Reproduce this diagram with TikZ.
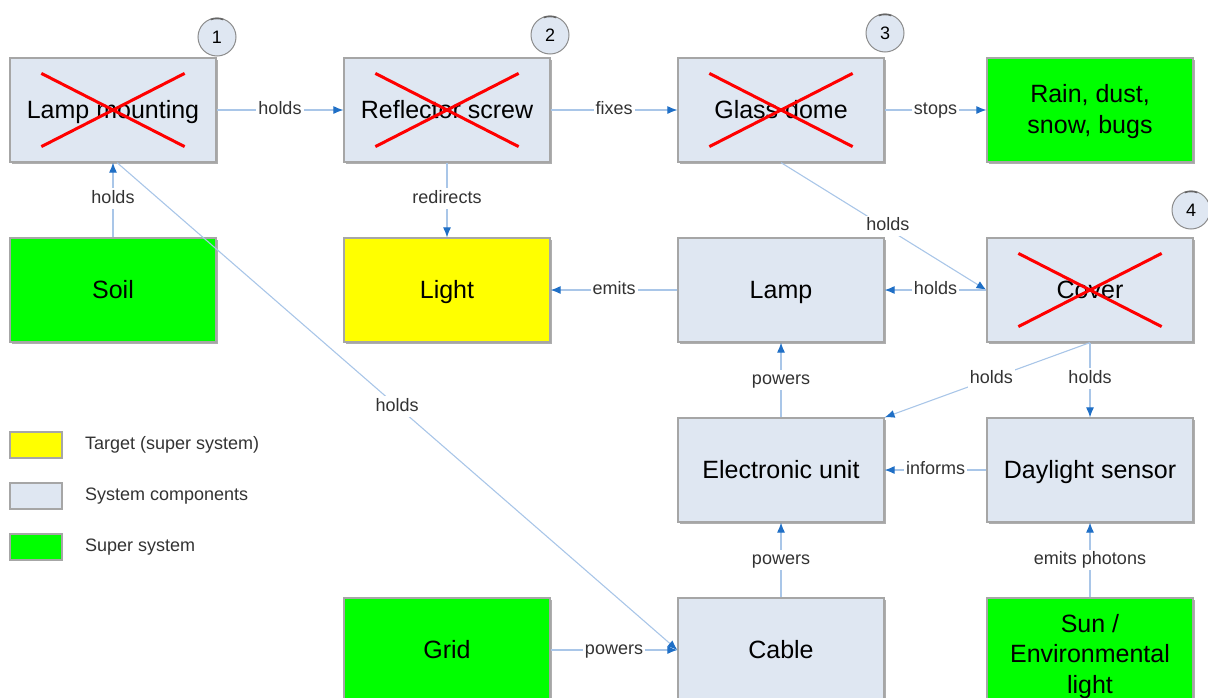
\documentclass[tikz,border=0pt]{standalone}
\usepackage{fontspec}
\setmainfont{Liberation Sans}
\usetikzlibrary{arrows.meta,shadows}
\definecolor{boxfill}{HTML}{DFE7F2}
\definecolor{boxline}{HTML}{A6A6A6}
\definecolor{supergreen}{HTML}{00FF00}
\definecolor{targetyellow}{HTML}{FFFF00}
\definecolor{linkblue}{HTML}{A9C6E8}
\definecolor{tipblue}{HTML}{1F6FC6}
\definecolor{labelgray}{HTML}{333333}
\definecolor{circline}{HTML}{8C8C8C}
\tikzset{
  base/.style={rectangle, minimum width=206pt, minimum height=104pt, inner sep=0pt,
    align=center, font=\fontsize{25}{31}\selectfont, draw=boxline, line width=1.2pt,
    text height=22.6pt, text depth=5.3pt,
    drop shadow={shadow xshift=1.5pt, shadow yshift=-1.5pt, fill=black!45, opacity=0.7}},
  comp/.style={base, fill=boxfill},
  supersys/.style={base, fill=supergreen},
  target/.style={base, fill=targetyellow},
  boxline/.style={anchor=base, inner sep=0pt, font=\fontsize{25}{31}\selectfont},
  link/.style={draw=linkblue, line width=1.1pt, -{Latex[length=10pt,width=8pt,color=tipblue]}},
  lbl/.style={fill=white, inner sep=2pt, text=labelgray, font=\fontsize{18}{20}\selectfont,
    text height=13pt, text depth=3.5pt},
  numcirc/.style={circle, minimum size=38pt, inner sep=0pt, fill=boxfill, draw=circline,
    line width=1pt, font=\fontsize{18}{20}\selectfont},
  topcap/.style={draw=black!60, line width=1.6pt},
  legbox/.style={rectangle, minimum width=52pt, minimum height=26pt, inner sep=0pt,
    draw=boxline, line width=1.2pt},
  legtext/.style={anchor=west, text=labelgray, font=\fontsize{18}{20}\selectfont, inner sep=0pt},
  cross/.style={draw=red, line width=3pt}
}
\newcommand{\crossout}[1]{%
  \draw[cross] ([xshift=32pt,yshift=-16pt]#1.north west) -- ([xshift=-32pt,yshift=16pt]#1.south east);
  \draw[cross] ([xshift=32pt,yshift=16pt]#1.south west) -- ([xshift=-32pt,yshift=-16pt]#1.north east);}
\newcommand{\capcirc}[1]{%
  \draw[topcap] ([shift={(-70:18.6)}]#1.center) arc[start angle=-70, end angle=-110, radius=18.6];}
\begin{document}
\begin{tikzpicture}[x=1pt,y=-1pt]
\useasboundingbox (0,0) rectangle (1208,697);
% boxes
\node[comp] (mount) at (113,110) {Lamp mounting};
\node[comp] (refl) at (447,110) {Reflector screw};
\node[comp] (dome) at (781,110) {Glass dome};
\node[supersys] (rain) at (1090,110) {};
\node[boxline] (rain1) at (1090,102) {Rain, dust,};
\node[boxline] (rain2) at (1090,133) {snow, bugs};
\node[supersys] (soil) at (113,290) {Soil};
\node[target] (light) at (447,290) {Light};
\node[comp] (lamp) at (781,290) {Lamp};
\node[comp] (cover) at (1090,290) {Cover};
\node[comp] (eunit) at (781,470) {Electronic unit};
\node[comp] (sensor) at (1090,470) {Daylight sensor};
\node[supersys] (grid) at (447,650) {Grid};
\node[comp] (cable) at (781,650) {Cable};
\node[supersys] (sun) at (1090,650) {};
\node[boxline] (sun1) at (1090,632) {Sun /};
\node[boxline] (sun2) at (1090,662) {Environmental};
\node[boxline] (sun3) at (1090,693) {light};
% crosses
\crossout{mount}
\crossout{refl}
\crossout{dome}
\crossout{cover}
% numbered circles
\node[numcirc] (c1) at (217,37) {1};
\node[numcirc] (c2) at (550,35) {2};
\node[numcirc] (c3) at (885,33) {3};
\node[numcirc] (c4) at (1191,210) {4};
\capcirc{c1}
\capcirc{c2}
\capcirc{c3}
\capcirc{c4}
% connectors
\draw[link] (mount) -- node[lbl] {holds} (refl);
\draw[link] (refl) -- node[lbl] {fixes} (dome);
\draw[link] (dome) -- node[lbl] {stops} (rain);
\draw[link] (soil) -- node[lbl, pos=0.52] {holds} (mount);
\draw[link] (refl) -- node[lbl, pos=0.48] {redirects} (light);
\draw[link] (lamp) -- node[lbl] {emits} (light);
\draw[link] (dome.south) -- node[lbl, pos=0.52, yshift=3pt] {holds} (cover.west);
\draw[link] (cover) -- node[lbl] {holds} (lamp);
\coordinate (mountdiag) at ([xshift=4pt]mount.south);
\draw[link] (mountdiag) -- node[lbl, pos=0.5] {holds} (cable.west);
\draw[link] (cover.south) -- node[lbl, pos=0.48] {holds} (eunit.north east);
\draw[link] (cover) -- node[lbl, pos=0.48] {holds} (sensor);
\draw[link] (eunit) -- node[lbl] {powers} (lamp);
\draw[link] (sensor) -- node[lbl] {informs} (eunit);
\draw[link] (cable) -- node[lbl] {powers} (eunit);
\draw[link] (sun) -- node[lbl] {emits photons} (sensor);
\draw[link] (grid) -- node[lbl] {powers} (cable);
% legend
\node[legbox, fill=targetyellow] (ly) at (36,445) {};
\node[legbox, fill=boxfill] (lg) at (36,496) {};
\node[legbox, fill=supergreen] (lgr) at (36,547) {};
\node[legtext] (lyt) at (85,445) {Target (super system)};
\node[legtext] (lgt) at (85,496) {System components};
\node[legtext] (lgrt) at (85,547) {Super system};
\end{tikzpicture}
\end{document}
